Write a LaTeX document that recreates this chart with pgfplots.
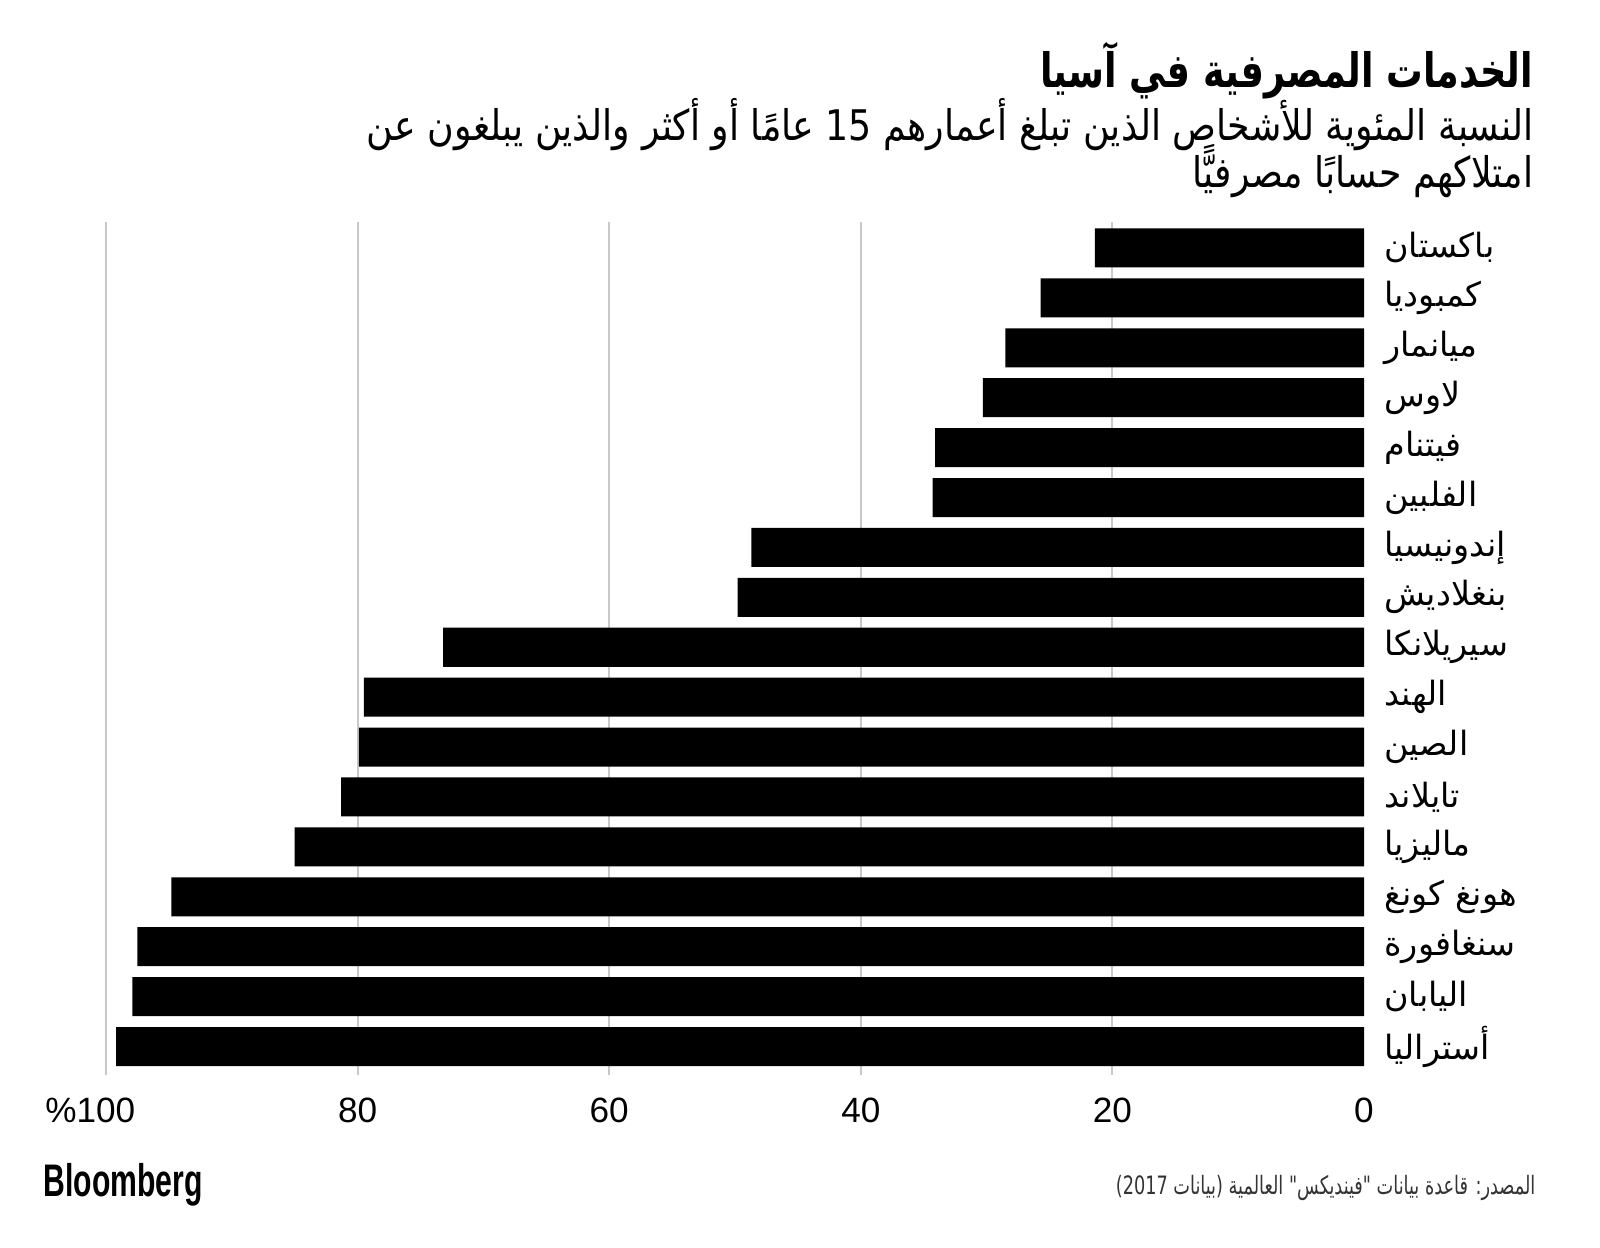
\documentclass[border=0pt]{standalone}
\usepackage{fontspec}
\setmainfont{Liberation Sans}
\newfontfamily\arabicfont[Script=Arabic]{DejaVu Sans}
\TeXXeTstate=1
\usepackage{pgfplots}
\pgfplotsset{compat=1.18}
\definecolor{gridgray}{HTML}{C8C8C8}
\definecolor{srcgray}{HTML}{333333}

\begin{document}
\begin{tikzpicture}[x=1cm,y=1cm]
\useasboundingbox (0,0) rectangle (16,12.48);
\begin{axis}[
  at={(1.06cm,1.73cm)}, anchor=south west,
  width=12.58cm, height=8.53cm, scale only axis,
  xbar, bar width=0.39cm, bar shift=0pt,
  xmin=0, xmax=100, x dir=reverse,
  ymin=-0.52, ymax=16.57, y dir=reverse,
  axis line style={draw=none},
  xtick={20,40,60,80,100},
  xticklabels={20,40,60,80,{\llap{\%}100}},
  extra x ticks={0}, extra x tick labels={0},
  extra x tick style={xmajorgrids=false},
  xmajorgrids, grid style={draw=gridgray, line width=0.6pt},
  major tick length=0pt,
  xticklabel style={font=\fontsize{10}{12}\selectfont, yshift=-0.11cm},
  ytick={0,...,16},
  yticklabel pos=right,
  yticklabel style={anchor=west, xshift=0.08cm, font=\arabicfont\fontsize{9.5}{11}\selectfont},
  yticklabels={
    {\beginR باكستان\endR},
    {\beginR كمبوديا\endR},
    {\beginR ميانمار\endR},
    {\beginR لاوس\endR},
    {\beginR فيتنام\endR},
    {\beginR الفلبين\endR},
    {\beginR إندونيسيا\endR},
    {\beginR بنغلاديش\endR},
    {\beginR سيريلانكا\endR},
    {\beginR الهند\endR},
    {\beginR الصين\endR},
    {\beginR تايلاند\endR},
    {\beginR ماليزيا\endR},
    {\beginR هونغ كونغ\endR},
    {\beginR سنغافورة\endR},
    {\beginR اليابان\endR},
    {\beginR أستراليا\endR}
  },
  clip=false,
]
\addplot[fill=black, draw=none] coordinates {
  (21.4,0) (25.7,1) (28.5,2) (30.3,3) (34.1,4) (34.3,5)
  (48.7,6) (49.8,7) (73.2,8) (79.5,9) (79.9,10) (81.3,11)
  (85.0,12) (94.8,13) (97.5,14) (97.9,15) (99.2,16)
};
\end{axis}
\node[anchor=east, inner sep=0pt] at (15.34,11.77)
  {\scalebox{0.77}[1]{\arabicfont\bfseries\fontsize{13.5}{16}\selectfont\beginR الخدمات المصرفية في آسيا\endR}};
\node[anchor=east, inner sep=0pt] at (15.34,11.23)
  {\scalebox{0.86}[1]{\arabicfont\fontsize{12}{14}\selectfont\beginR النسبة المئوية للأشخاص الذين تبلغ أعمارهم \beginL 15\endL{} عامًا أو أكثر والذين يبلغون عن\endR}};
\node[anchor=east, inner sep=0pt] at (15.34,10.77)
  {\scalebox{0.86}[1]{\arabicfont\fontsize{12}{14}\selectfont\beginR امتلاكهم حسابًا مصرفيًّا\endR}};
\node[anchor=west, inner sep=0pt] at (0.43,0.63)
  {\scalebox{0.66}[1]{\bfseries\fontsize{13}{15}\selectfont Bloomberg}};
\node[anchor=east, inner sep=0pt, text=srcgray] at (15.36,0.60)
  {\scalebox{0.7}[1]{\arabicfont\fontsize{7.2}{9}\selectfont\beginR المصدر: قاعدة بيانات "فينديكس" العالمية (بيانات \beginL 2017\endL{})\endR}};
\end{tikzpicture}
\end{document}
